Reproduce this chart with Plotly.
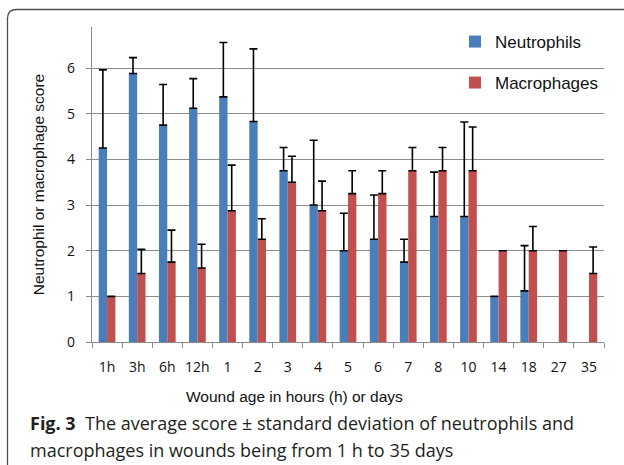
import plotly.graph_objects as go

categories = ["1h", "3h", "6h", "12h", "1", "2", "3", "4", "5", "6", "7", "8", "10", "14", "18", "27", "35"]
neutrophils = [4.25, 5.88, 4.75, 5.12, 5.37, 4.83, 3.75, 3.0, 2.0, 2.25, 1.75, 2.75, 2.75, 1.0, 1.12, None, None]
neutrophils_sd = [1.71, 0.35, 0.89, 0.65, 1.19, 1.59, 0.51, 1.42, 0.82, 0.97, 0.5, 0.97, 2.07, 0.0, 0.99, None, None]
macrophages = [1.0, 1.5, 1.75, 1.62, 2.875, 2.25, 3.5, 2.875, 3.25, 3.25, 3.75, 3.75, 3.75, 2.0, 2.0, 2.0, 1.5]
macrophages_sd = [0.0, 0.53, 0.7, 0.52, 1.0, 0.45, 0.57, 0.65, 0.5, 0.5, 0.51, 0.51, 0.96, 0.0, 0.53, 0.0, 0.58]

W, H = 624, 465
L, R, T, B = 92, 20, 27, 123
pw, ph = W - L - R, H - T - B

def px(x):
    return (x - L) / pw

def py(y):
    return (H - B - y) / ph

blue = "#4a7ebb"
red = "#c0504d"

fig = go.Figure()
fig.add_trace(go.Bar(
    x=categories, y=neutrophils, name="Neutrophils", marker_color=blue,
    marker_line_width=0,
    error_y=dict(type="data", array=neutrophils_sd, symmetric=False,
                 arrayminus=[0] * len(categories), color="black", thickness=1.6, width=4),
    legend="legend",
))
fig.add_trace(go.Bar(
    x=categories, y=macrophages, name="Macrophages", marker_color=red,
    marker_line_width=0,
    error_y=dict(type="data", array=macrophages_sd, symmetric=False,
                 arrayminus=[0] * len(categories), color="black", thickness=1.6, width=4),
    legend="legend2",
))

axis_font = dict(family="Liberation Sans, Arial, sans-serif", size=15.5, color="#111111")
tick_font = dict(family="Open Sans, sans-serif", size=14, color="#111111")

fig.update_layout(
    width=W, height=H,
    margin=dict(l=L, r=R, t=T, b=B, pad=0, autoexpand=False),
    paper_bgcolor="white", plot_bgcolor="white",
    barmode="group", bargap=0.445, bargroupgap=0,
    showlegend=True,
    legend=dict(x=px(455), y=py(42), xanchor="left", yanchor="middle",
                bgcolor="rgba(0,0,0,0)", borderwidth=0,
                font=dict(family="Liberation Sans, Arial, sans-serif", size=17, color="#111111")),
    legend2=dict(x=px(455), y=py(83), xanchor="left", yanchor="middle",
                 bgcolor="rgba(0,0,0,0)", borderwidth=0,
                 font=dict(family="Liberation Sans, Arial, sans-serif", size=17, color="#111111")),
    xaxis=dict(
        type="category", showgrid=False, showline=True, linecolor="#8c8c8c", linewidth=1.2,
        ticks="outside", tickson="boundaries", ticklen=5, tickcolor="#8c8c8c", tickwidth=1.2,
        tickfont=tick_font, ticklabelstandoff=12, tickangle=0, automargin=False,
    ),
    yaxis=dict(
        range=[0, 6.9], tickvals=[0, 1, 2, 3, 4, 5, 6], showgrid=True, gridcolor="#8c8c8c",
        gridwidth=1.2, showline=True, linecolor="#8c8c8c", linewidth=1.2, zeroline=False,
        ticks="outside", ticklen=5, tickcolor="#8c8c8c", tickwidth=1.2,
        tickfont=tick_font, ticklabelstandoff=8, automargin=False,
        title=dict(text="Neutrophil or macrophage score", font=axis_font, standoff=18),
    ),
)

fig.add_annotation(text="Wound age in hours (h) or days", xref="paper", yref="paper",
                   x=px(294), y=py(396), xanchor="center", yanchor="middle",
                   showarrow=False, font=axis_font)

cap_font = dict(family="Open Sans, sans-serif", size=18, color="#231f20")
fig.add_annotation(text="<b>Fig. 3</b>  The average score ± standard deviation of neutrophils and",
                   xref="paper", yref="paper", x=px(28), y=py(423), xanchor="left", yanchor="middle",
                   showarrow=False, font=cap_font)
fig.add_annotation(text="macrophages in wounds being from 1 h to 35 days",
                   xref="paper", yref="paper", x=px(28), y=py(450), xanchor="left", yanchor="middle",
                   showarrow=False, font=cap_font)

# rounded frame around the figure (left and top edges visible)
x0, y0, r = 7.5, 9.5, 9
path = (f"M {px(x0)},{py(H + 5)} L {px(x0)},{py(y0 + r)} "
        f"Q {px(x0)},{py(y0)} {px(x0 + r)},{py(y0)} L {px(W + 5)},{py(y0)}")
fig.add_shape(type="path", path=path, xref="paper", yref="paper",
              line=dict(color="#4d4d4d", width=1.3))

fig.write_html("out.html", config={"displayModeBar": False},
               post_script="document.body.style.margin='0';")
